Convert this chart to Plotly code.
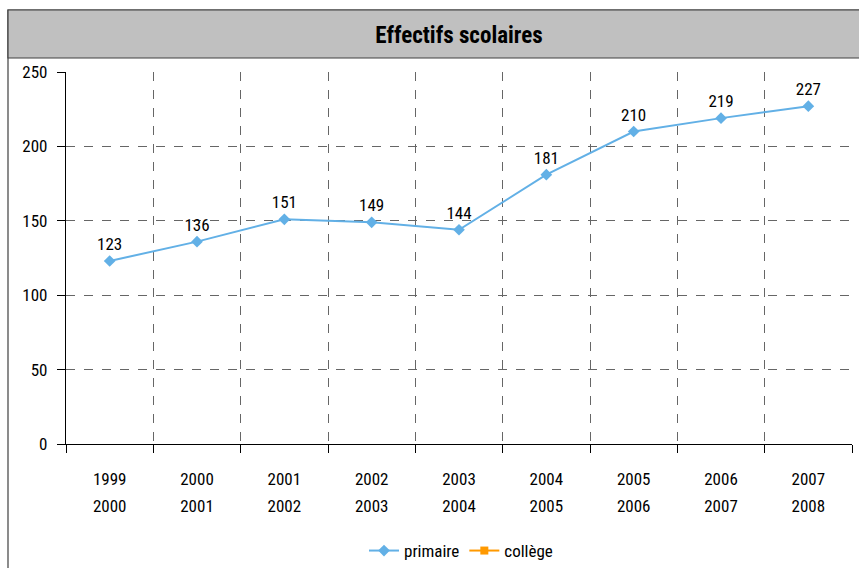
import plotly.graph_objects as go

year_start = ["1999", "2000", "2001", "2002", "2003", "2004", "2005", "2006", "2007"]
year_end = ["2000", "2001", "2002", "2003", "2004", "2005", "2006", "2007", "2008"]
primaire = [123, 136, 151, 149, 144, 181, 210, 219, 227]
college = []
y_ticks = [0, 50, 100, 150, 200, 250]

FONT = "Roboto Condensed, Roboto, sans-serif"
L, R, T, B = 66, 7, 72, 124
W, H = 859, 568
pw, ph = W - L - R, H - T - B

def px(X):
    return (X - L) / pw

def py(Y):
    return (H - B - Y) / ph

xs = list(range(len(year_start)))
xrange_ = [-0.5, len(year_start) - 0.5]

fig = go.Figure()
fig.add_trace(go.Scatter(
    x=xs, y=primaire, mode="lines+markers+text", name="primaire",
    line=dict(color="#62b0e6", width=2),
    marker=dict(symbol="diamond", size=9, color="#62b0e6"),
    text=[str(v) for v in primaire], textposition="top center",
    textfont=dict(family=FONT, size=17, color="#000000"),
    cliponaxis=False,
))
fig.add_trace(go.Scatter(
    x=[None] if not college else xs, y=[None] if not college else college,
    mode="lines+markers", name="collège",
    line=dict(color="#ff9900", width=2),
    marker=dict(symbol="square", size=8, color="#ff9900"),
))
# invisible helper trace on the second x axis (second line of the tick labels)
fig.add_trace(go.Scatter(x=xs, y=[None] * len(xs), xaxis="x2", showlegend=False,
                         hoverinfo="skip", mode="markers"))

shapes = [
    dict(type="rect", xref="paper", yref="paper", x0=px(8), x1=px(875), y0=py(580), y1=py(10),
         line=dict(color="#404040", width=1.2), layer="below"),
    dict(type="rect", xref="paper", yref="paper", x0=px(8), x1=px(875), y0=py(58), y1=py(10),
         fillcolor="#c0c0c0", line=dict(color="#404040", width=1.2), layer="below"),
]

fig.update_layout(
    width=W, height=H,
    margin=dict(l=L, r=R, t=T, b=B, autoexpand=False),
    paper_bgcolor="white", plot_bgcolor="white",
    font=dict(family=FONT, size=16, color="#000000"),
    title=dict(text="<b>Effectifs scolaires</b>", x=0.5, xref="paper", xanchor="center",
               y=1 - 35 / H, yanchor="middle", font=dict(family=FONT, size=23, color="#000000")),
    showlegend=True,
    legend=dict(orientation="h", x=px(461), xanchor="center", y=py(551), yanchor="middle",
                font=dict(family=FONT, size=17), bgcolor="rgba(0,0,0,0)"),
    shapes=shapes,
    xaxis=dict(
        range=xrange_, tickmode="array", tickvals=xs, ticktext=year_start,
        showgrid=False, zeroline=False, showline=True, linecolor="#000000", linewidth=1.2,
        ticks="", tickfont=dict(family=FONT, size=17), ticklabelstandoff=19,
        minor=dict(tickmode="array", tickvals=[-0.5] + [i + 0.5 for i in range(len(xs))],
                   showgrid=True, gridcolor="#666666", griddash="dash", gridwidth=1,
                   ticks="outside", ticklen=8, tickcolor="#000000"),
        fixedrange=True,
    ),
    xaxis2=dict(
        range=xrange_, overlaying="x", anchor="y", side="bottom",
        tickmode="array", tickvals=xs, ticktext=year_end,
        showgrid=False, zeroline=False, showline=False, ticks="",
        tickfont=dict(family=FONT, size=17), ticklabelstandoff=50, fixedrange=True,
    ),
    yaxis=dict(
        range=[0, 250], tickmode="array", tickvals=y_ticks,
        showgrid=True, gridcolor="#666666", griddash="dash", gridwidth=1,
        zeroline=False, showline=True, linecolor="#000000", linewidth=1.2,
        ticks="outside", ticklen=8, tickcolor="#000000", ticklabelstandoff=6,
        tickfont=dict(family=FONT, size=17), fixedrange=True,
    ),
)

fig.write_html("out.html", config={"displayModeBar": False},
               post_script="document.body.style.margin='0';")
